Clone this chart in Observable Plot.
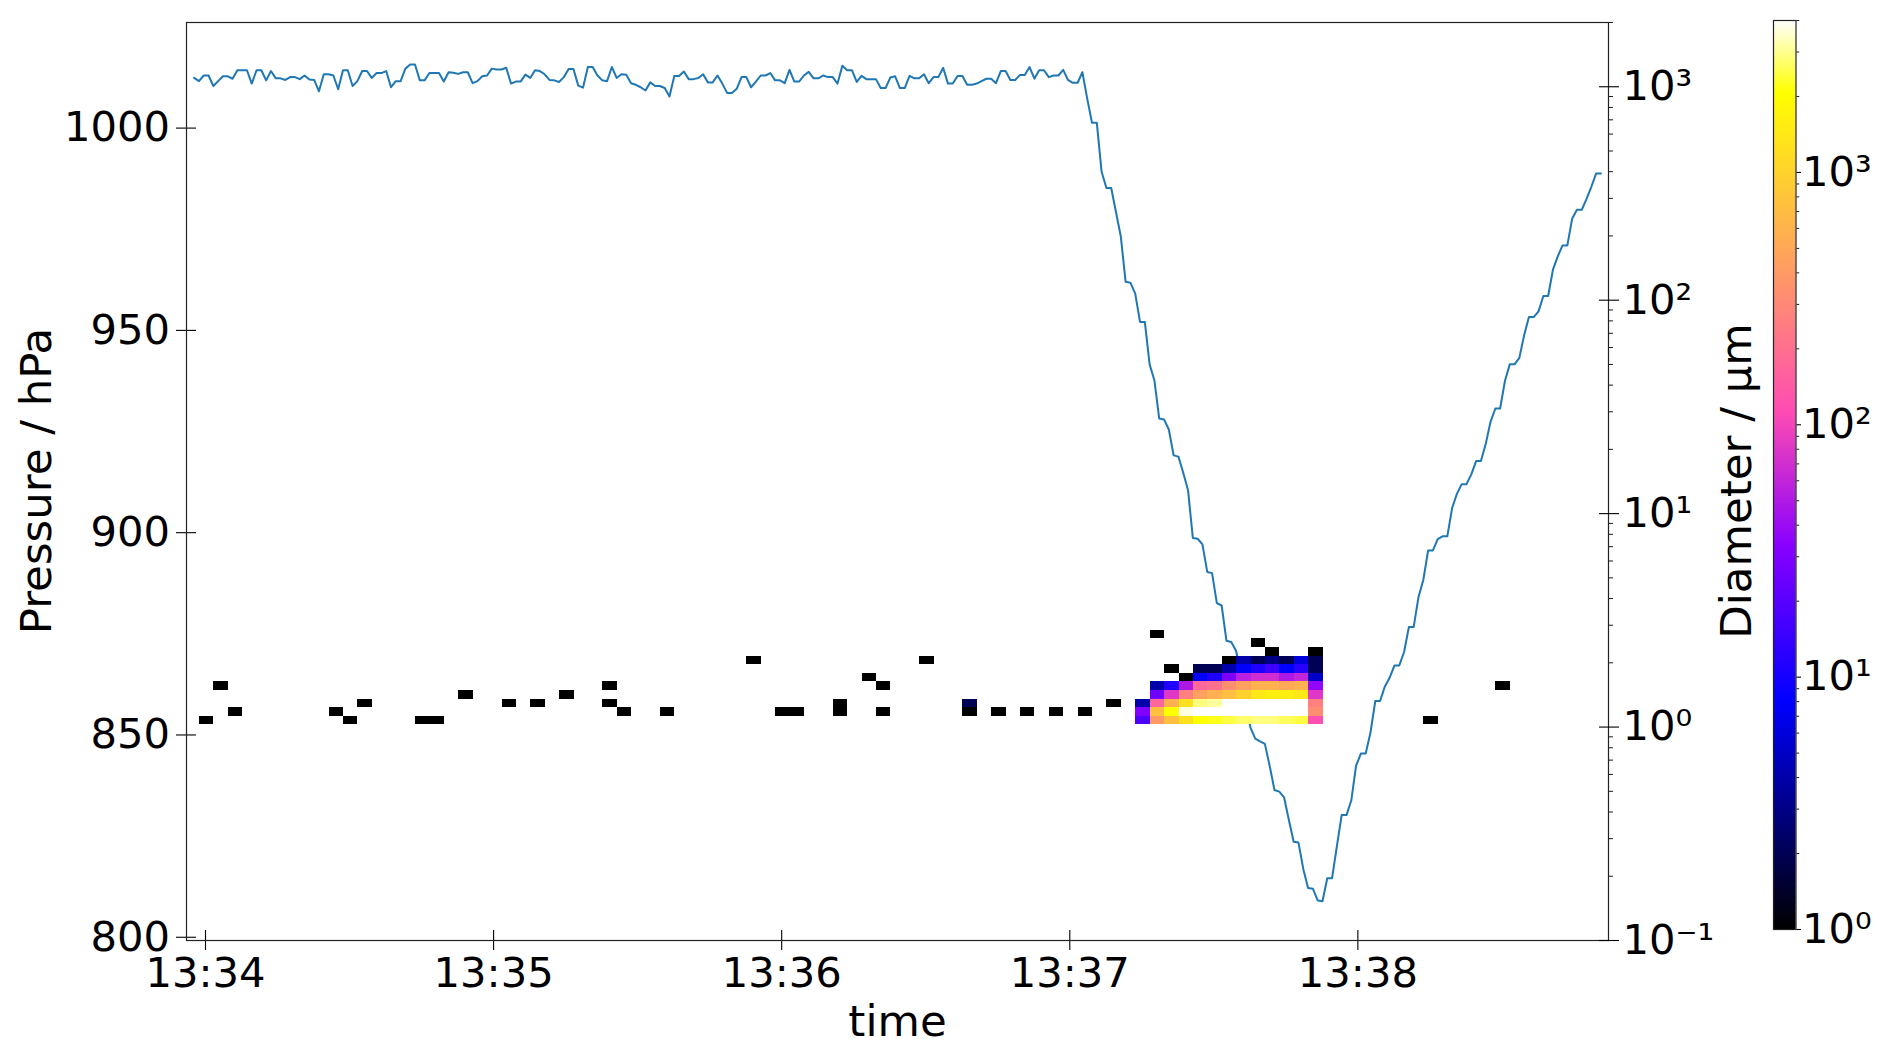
<!DOCTYPE html>
<html><head><meta charset="utf-8">
<script src="https://cdn.jsdelivr.net/npm/d3@7"></script>
<script src="https://cdn.jsdelivr.net/npm/@observablehq/plot@0.6"></script>
<style>
html,body{margin:0;padding:0;background:#fff;}
#chart{position:relative;width:1892px;height:1053px;font-family:"DejaVu Sans";}
#chart svg{position:absolute;top:0;}
</style></head><body><div id="chart"></div>
<script>
// ---- data ----
const pressureStart = "13:33:57.63";   // 1 Hz samples
const pressure = [
1012.4,1011.6,1013.0,1013.0,1010.4,1011.6,1012.8,1012.8,1012.2,1014.3,
1014.3,1014.3,1011.0,1014.3,1014.3,1011.8,1014.1,1012.3,1012.3,1011.9,
1012.6,1012.6,1012.1,1013.0,1012.0,1011.9,1009.1,1013.3,1013.3,1013.0,
1009.6,1014.3,1014.3,1010.4,1011.6,1014.1,1014.1,1012.4,1013.6,1013.6,
1014.1,1010.1,1011.6,1011.6,1014.7,1015.7,1015.7,1011.8,1011.8,1013.6,
1013.6,1013.6,1011.5,1013.8,1013.7,1013.4,1013.8,1013.8,1011.1,1011.6,
1012.8,1013.0,1014.7,1014.5,1014.5,1014.9,1011.0,1011.5,1011.5,1013.2,
1012.4,1014.3,1014.1,1013.3,1011.9,1011.8,1011.4,1012.6,1014.6,1014.6,
1010.5,1010.0,1015.1,1015.1,1013.0,1011.8,1011.6,1015.1,1012.4,1013.3,
1013.2,1011.1,1010.7,
1010.1,1009.3,1011.3,1010.4,1010.4,1009.9,1007.8,1012.9,1012.9,1014.0,
1012.1,1012.1,1012.4,1013.3,1011.3,1011.3,1013.0,1011.0,1008.7,1008.7,
1009.7,1012.6,1012.6,1010.1,1011.5,1013.0,1013.0,1013.6,1011.8,1011.8,
1011.1,1014.4,1011.5,1011.5,1013.0,1013.9,1012.3,1012.3,1013.0,1012.6,
1012.6,1011.0,1015.4,1014.3,1014.3,1011.4,1012.9,1012.1,1012.1,1012.1,
1009.9,1009.9,1012.5,1012.8,1009.9,1009.9,1012.9,1012.3,1012.3,1013.3,
1011.1,1012.6,1012.6,1014.9,1011.0,1011.0,1012.9,1012.9,1010.7,1010.7,
1011.0,1011.6,1012.2,1012.2,1011.1,1014.1,1014.1,1011.9,1011.9,1013.1,
1013.1,1015.1,1012.2,1014.3,1014.3,1012.6,1013.0,1013.0,1014.4,1011.9,
1011.2,1011.2,1013.8,
1007.3,1001.3,1001.3,989.2,985.2,985.2,979.2,973.2,962.0,961.8,
959.1,952.1,952.1,941.6,937.6,928.2,928.0,925.5,919.1,918.8,
914.8,910.5,898.7,898.5,897.1,890.3,890.0,882.6,882.0,873.3,
873.0,870.8,865.2,858.5,851.8,849.1,848.4,847.8,842.4,836.4,
836.0,834.6,829.0,823.6,823.4,816.9,812.2,812.0,809.1,808.9,
814.6,
814.6,822.5,830.2,830.2,833.8,842.4,845.4,845.4,850.6,858.4,
858.4,862.0,864.2,867.2,867.2,870.5,876.7,876.7,884.1,888.3,
895.6,895.6,898.4,899.1,899.1,906.1,909.6,912.0,912.0,914.4,
917.7,917.7,921.9,927.4,930.7,930.7,937.5,941.6,941.6,943.2,
948.8,953.3,953.3,954.7,958.5,958.5,965.0,968.3,971.0,971.0,
977.6,979.8,979.8,982.5,985.5,988.8,988.8
];

const timeDomain = ["13:33:56.04", "13:38:52.2"];
const timeTicks = ["13:34", "13:35", "13:36", "13:37", "13:38"];
const pressureDomain = [799.2, 1026.1];
const pressureTicks = [800, 850, 900, 950, 1000];
const diameterDomain = [0.1, 2000];
const diameterTicks = [0.1, 1, 10, 100, 1000];
const colorDomain = [1, 4000];
const colorTicks = [1, 10, 100, 1000];

// size-distribution bins (log spaced diameter edges, µm) and 3 s time bins
const diameterEdges = [1.023,1.122,1.231,1.351,1.483,1.628,1.786,1.960,2.151,2.360,2.589,2.841];
const binSeconds = 3;

// isolated cells
const sparseTimes = ["13:33:58.75","13:34:01.75","13:34:04.75","13:34:25.75","13:34:28.75","13:34:31.75",
"13:34:43.75","13:34:46.75","13:34:52.75","13:35:01.75","13:35:07.75","13:35:13.75","13:35:22.75",
"13:35:22.75","13:35:25.75","13:35:34.75","13:35:52.75","13:35:58.75","13:36:01.75","13:36:10.75",
"13:36:10.75","13:36:16.75","13:36:19.75","13:36:19.75","13:36:28.75","13:36:37.75","13:36:37.75",
"13:36:43.75","13:36:49.75","13:36:55.75","13:37:01.75","13:37:07.75","13:37:16.75","13:37:19.75",
"13:37:22.75","13:37:31.75","13:37:37.75","13:37:40.75","13:37:49.75","13:38:13.75","13:38:28.75"];
const sparseRows = [0,4,1,1,0,2,0,0,3,2,2,3,4,2,1,1,7,1,1,1,2,5,4,1,7,1,2,1,1,1,1,2,10,6,5,7,9,8,8,0,4];
const sparseValues = [1,1,1,1,1,1,1,1,1,1,1,1,1,1,1,1,1,1,1,1,1,1,1,1,1,1,2,1,1,1,1,1,1,1,1,1,1,1,1,1,1];

// burst block: one column per time bin, values from the lowest diameter bin upward
const burstTimes = ["13:37:13.75","13:37:16.75","13:37:19.75","13:37:22.75","13:37:25.75","13:37:28.75",
"13:37:31.75","13:37:34.75","13:37:37.75","13:37:40.75","13:37:43.75","13:37:46.75","13:37:49.75"];
const burstColumns = [
  [18, 30, 4],
  [390, 730, 170, 25, 4],
  [730, 2050, 570, 81, 11],
  [1250, 3700, 1250, 260, 48],
  [2050, 4000, 2870, 445, 170, 8, 2],
  [2200, 4000, 3100, 570, 200, 11, 2],
  [2450, 4000, 4000, 730, 330, 30, 4],
  [2700, 4000, 4000, 980, 445, 55, 8, 4],
  [2870, 4000, 4000, 1400, 570, 69, 11, 2],
  [2870, 4000, 4000, 1600, 570, 69, 15, 3],
  [2600, 4000, 4000, 1600, 500, 48, 8, 2],
  [2450, 4000, 4000, 1400, 570, 60, 12, 6],
  [118, 330, 260, 81, 36, 5, 2, 2]
];

// ---- helpers ----
function parseTime(s) {
  const [h, m, sec = "0"] = s.split(":");
  const secs = parseFloat(sec);
  return new Date(Date.UTC(2020, 0, 1, +h, +m, 0) + Math.round(secs * 1000));
}
function gnuplot2(t) {
  const c = v => Math.max(0, Math.min(1, v));
  const r = c(t / 0.32 - 0.78125);
  const g = c(2 * t - 0.84);
  let b = t < 0.25 ? 4 * t : (t < 0.92 ? -2 * t + 1.84 : t / 0.08 - 11.5);
  b = c(b);
  return `rgb(${Math.round(r*255)},${Math.round(g*255)},${Math.round(b*255)})`;
}
const supMap = {"0":"⁰","1":"¹","2":"²","3":"³","4":"⁴","-":"⁻"};
const sup = d => "10" + String(Math.round(Math.log10(d))).split("").map(ch => supMap[ch]).join("");
function minorTicks(lo, hi) {
  const out = [];
  for (let e = Math.floor(Math.log10(lo)); e <= Math.ceil(Math.log10(hi)); e++)
    for (let k = 2; k <= 9; k++) { const v = k * Math.pow(10, e); if (v >= lo && v <= hi * 1.0001) out.push(v); }
  return out;
}

const t0 = parseTime(pressureStart).getTime();
const pressureData = pressure.map((p, i) => ({time: new Date(t0 + i * 1000), p}));

const cells = [];
sparseTimes.forEach((s, i) => {
  const a = parseTime(s);
  cells.push({t1: a, t2: new Date(a.getTime() + binSeconds * 1000),
    d1: diameterEdges[sparseRows[i]], d2: diameterEdges[sparseRows[i] + 1], v: sparseValues[i]});
});
burstTimes.forEach((s, j) => {
  const a = parseTime(s);
  burstColumns[j].forEach((v, r) => {
    if (v == null) return;
    cells.push({t1: a, t2: new Date(a.getTime() + binSeconds * 1000),
      d1: diameterEdges[r], d2: diameterEdges[r + 1], v});
  });
});

const W = 1892, H = 1053;
const margins = {marginLeft: 186, marginRight: 284, marginTop: 22, marginBottom: 113};
const FS = "41.67px";
const LFS = "43.5px";
const baseStyle = {fontFamily: "DejaVu Sans", fontSize: FS, color: "black", overflow: "visible"};
const xScale = {type: "utc", domain: timeDomain.map(parseTime)};
const colorScale = {type: "log", domain: colorDomain, interpolate: gnuplot2, clamp: true};

// ---- plot A: pressure (left axis) ----
const plotA = Plot.plot({
  width: W, height: H, ...margins,
  style: {...baseStyle, background: "white"},
  x: xScale,
  y: {domain: pressureDomain},
  marks: [
    Plot.line(pressureData, {x: "time", y: "p", stroke: "#1f77b4", strokeWidth: 2}),
    Plot.axisX({ticks: timeTicks.map(parseTime), tickFormat: d3.utcFormat("%H:%M"),
      tickSize: 20, dy: -10, tickPadding: 7, label: null, strokeWidth: 1.1}),
    Plot.axisY({ticks: pressureTicks, tickFormat: d => String(d), tickSize: 20, dx: 10,
      tickPadding: 6.5, label: null, strokeWidth: 1.1}),
    Plot.text(["time"], {text: d => d, frameAnchor: "bottom", dy: 95, fontSize: LFS})
  ]
});

// ---- plot B: size distribution (right log axis) ----
const plotB = Plot.plot({
  width: W, height: H, ...margins,
  style: {...baseStyle, background: "transparent"},
  x: {...xScale, axis: null},
  y: {type: "log", domain: diameterDomain},
  color: colorScale,
  marks: [
    Plot.rect(cells, {x1: "t1", x2: "t2", y1: "d1", y2: "d2", fill: "v", inset: 0, shapeRendering: "crispEdges"}),
    Plot.frame({stroke: "#222", strokeWidth: 1.2}),
    Plot.axisY({anchor: "right", ticks: diameterTicks, tickFormat: sup, tickSize: 20, dx: -10,
      tickPadding: 4, label: null, strokeWidth: 1.1}),
    Plot.axisY({anchor: "right", ticks: minorTicks(0.1, 2000), tickFormat: () => "", tickSize: 4,
      label: null, strokeWidth: 0.9})
  ]
});

// rotated axis titles
function rotatedLabel(svg, text, x, y) {
  d3.select(svg).append("text")
    .attr("transform", `translate(${x},${y}) rotate(-90)`)
    .attr("text-anchor", "middle")
    .attr("dy", "0.32em")
    .attr("font-family", "DejaVu Sans")
    .attr("font-size", LFS)
    .attr("fill", "black")
    .text(text);
}
rotatedLabel(plotA, "Pressure / hPa", 37, 481);
rotatedLabel(plotB, "Diameter / µm", 1737, 481);

// ---- plot C: colour bar ----
const rampN = 400;
const lmin = Math.log10(colorDomain[0]), lmax = Math.log10(colorDomain[1]);
const ramp = d3.range(rampN).map(i => ({
  a: Math.pow(10, lmin + (lmax - lmin) * i / rampN),
  b: Math.pow(10, lmin + (lmax - lmin) * (i + 1.5) / rampN),
  m: Math.pow(10, lmin + (lmax - lmin) * (i + 0.5) / rampN)
}));
const plotC = Plot.plot({
  width: 119, height: H, marginLeft: 0, marginRight: 96.5, marginTop: 20, marginBottom: 124,
  style: {...baseStyle, background: "transparent"},
  x: {domain: [0, 1], axis: null},
  y: {type: "log", domain: colorDomain},
  color: colorScale,
  marks: [
    Plot.rect(ramp, {x1: 0, x2: 1, y1: "a", y2: d => Math.min(d.b, colorDomain[1]), fill: "m", inset: 0}),
    Plot.frame({stroke: "#222", strokeWidth: 1.2}),
    Plot.axisY({anchor: "right", ticks: colorTicks, tickFormat: sup, tickSize: 4.5, tickPadding: 1.5,
      label: null, strokeWidth: 1.1}),
    Plot.axisY({anchor: "right", ticks: minorTicks(1, 4000), tickFormat: () => "", tickSize: 2.7,
      label: null, strokeWidth: 0.9})
  ]
});

const chart = document.getElementById("chart");
plotA.style.left = "0px";
plotB.style.left = "0px";
plotC.style.left = "1773px";
chart.appendChild(plotA);
chart.appendChild(plotB);
chart.appendChild(plotC);
</script></body></html>
